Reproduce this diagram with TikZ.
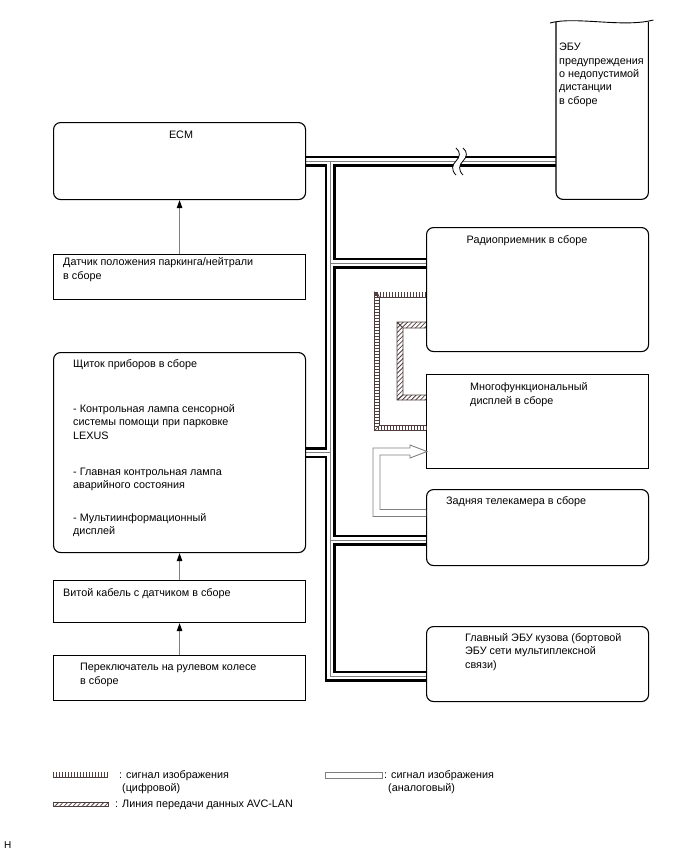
\documentclass[tikz,border=0pt]{standalone}
\usepackage{fontspec}
\setmainfont{Liberation Sans}
\usetikzlibrary{arrows.meta,patterns.meta}
\definecolor{sig}{RGB}{80,62,62}
\definecolor{bgray}{RGB}{128,128,128}
\pgfdeclarelayer{bg}
\pgfsetlayers{bg,main}
\newcommand\busnet[1]{%
  \draw[#1] (ecm.east) -- (ecwin);
  \draw[#1, line join=miter] (jtop) -- (jbot) -- (bdyin);
  \draw[#1] (clu.east) -- (jclu);
  \draw[#1] (jrad) -- (radin);
  \draw[#1] (jcam) -- (camin);}
\newcommand\digi[1]{%
  \draw[sig, line width=6pt, line join=miter] #1;
  \draw[white, line width=4.2pt, line join=miter] #1;
  \draw[sig, line width=4.2pt, dash pattern=on 1.1pt off 1.9pt] #1;}
\begin{document}
\begin{tikzpicture}[x=1pt,y=-1pt,
  txt/.style={inner sep=0pt, anchor=north west, align=left, font=\fontsize{10.8}{13.4}\selectfont},
  rbox/.style={draw, line width=1.1pt, rounded corners=7pt, inner sep=0pt, anchor=north west},
  sbox/.style={draw, line width=1.1pt, inner sep=0pt, anchor=north west},
  feed/.style={draw=bgray, line width=0.9pt, -{Triangle[length=8pt,width=5.5pt,color=black]}},
  hatch/.style={pattern={Lines[angle=45,distance=3.2pt,line width=0.8pt]}, pattern color=sig},
]
\useasboundingbox (0,0) rectangle (688,852);

% boxes
\node[rbox, minimum width=252pt, minimum height=77pt] (ecm) at (53,122) {};
\node[sbox, minimum width=252pt, minimum height=45pt] (pns) at (53,254) {};
\node[rbox, minimum width=252pt, minimum height=200pt] (clu) at (53,352) {};
\node[sbox, minimum width=252pt, minimum height=42pt] (cab) at (53,580) {};
\node[sbox, minimum width=252pt, minimum height=45pt] (swt) at (53,655) {};
\node[rbox, minimum width=222pt, minimum height=124pt] (rad) at (426,227) {};
\node[sbox, minimum width=222pt, minimum height=94pt] (mfd) at (426,374) {};
\node[rbox, minimum width=222pt, minimum height=76pt] (cam) at (426,489) {};
\node[rbox, minimum width=222pt, minimum height=75pt] (bdy) at (426,626) {};
\node[inner sep=0pt, minimum width=92pt, minimum height=177pt, anchor=north west] (ecw) at (556,22) {};
\draw[line width=1.1pt, rounded corners=7pt] (ecw.north west) -- (ecw.south west) -- (ecw.south east) -- (ecw.north east);
\draw[line width=0.9pt] ([xshift=-6pt,yshift=-1pt]ecw.north west) .. controls +(25,-7) and +(-30,8) .. ([xshift=5pt,yshift=2pt]ecw.north east);

% bus coordinates
\coordinate (trunkx) at (330,0);
\coordinate (jtop) at (trunkx |- ecm.east);
\coordinate (jbot) at (330,676);
\coordinate (bdyin) at (bdy.west |- jbot);
\coordinate (radin) at (426,263);
\coordinate (jrad) at (trunkx |- radin);
\coordinate (camin) at (426,540);
\coordinate (jcam) at (trunkx |- camin);
\coordinate (jclu) at (trunkx |- clu.east);
\coordinate (ecwin) at (ecw.west |- ecm.east);

\begin{pgfonlayer}{bg}
\busnet{line width=11pt, black}
\busnet{line width=6pt, white}
\busnet{line width=1pt, bgray}
\fill[white] (456,148) .. controls (461,152) and (460,157) .. (456,161) .. controls (452,165) and (451,170) .. (456,175)
  -- (463,175) .. controls (458,170) and (459,165) .. (463,161) .. controls (467,157) and (468,152) .. (463,148) -- cycle;
\end{pgfonlayer}
\draw[line width=0.8pt] (456,148) .. controls (461,152) and (460,157) .. (456,161) .. controls (452,165) and (451,170) .. (456,175);
\draw[line width=0.8pt] (463,148) .. controls (468,152) and (467,157) .. (463,161) .. controls (459,165) and (458,170) .. (463,175);

% digital video line radio -> display
\coordinate (dg1) at (rad.west |- 0,294.5);
\coordinate (dg2) at (377,294.5);
\coordinate (dg3) at (377,428);
\coordinate (dg4) at (mfd.west |- 0,428);
\digi{(dg1) -- (dg2) -- (dg3) -- (dg4)}
\draw[sig, line width=0.6pt] (374,291.5) -- (380,297.5) (374,431) -- (380,425);

% AVC-LAN line
\fill[hatch]
  (426,322) -- (397,322) -- (397,400) -- (426,400) -- (426,395) -- (403,395) -- (403,328) -- (426,328) -- cycle;
\draw[sig, line width=0.8pt] (426,322) -- (397,322) -- (397,400) -- (426,400)
  (426,395) -- (403,395) -- (403,328) -- (426,328) (397,322) -- (403,328) (397,400) -- (403,395);

% analog video line camera -> display
\draw[bgray, line width=0.9pt, fill=white] (426,516.5) -- (373,516.5) -- (373,448) -- (410,448) -- (410,445)
  -- (427,451.5) -- (410,458) -- (410,455) -- (380,455) -- (380,509.5) -- (426,509.5);

% feed arrows
\draw[feed] (pns.north) -- (ecm.south);
\draw[feed] (cab.north) -- (clu.south);
\draw[feed] (swt.north) -- (cab.south);

% texts
\node[txt, anchor=north] (tecm) at (181,131) {ECM};
\node[txt] (tpns) at (63,257.5) {Датчик положения паркинга/нейтрали\\в сборе};
\node[txt] (tcl1) at (73,359) {Щиток приборов в сборе};
\node[txt] (tcl2) at (73,404) {- Контрольная лампа сенсорной\\системы помощи при парковке\\LEXUS};
\node[txt] (tcl3) at (73,467.5) {- Главная контрольная лампа\\аварийного состояния};
\node[txt] (tcl4) at (73,513) {- Мультиинформационный\\дисплей};
\node[txt] (tcab) at (63,588) {Витой кабель с датчиком в сборе};
\node[txt] (tswt) at (80,663) {Переключатель на рулевом колесе\\в сборе};
\node[txt] (trad) at (466.5,235) {Радиоприемник в сборе};
\node[txt] (tmfd) at (470,382.5) {Многофункциональный\\дисплей в сборе};
\node[txt] (tcam) at (446,496) {Задняя телекамера в сборе};
\node[txt] (tbdy) at (465,633) {Главный ЭБУ кузова (бортовой\\ЭБУ сети мультиплексной\\связи)};
\node[txt] (tecw) at (559,43) {ЭБУ\\предупреждения\\о недопустимой\\дистанции\\в сборе};

% legend
\coordinate (lg1a) at (53,774.5);
\coordinate (lg1b) at (108,774.5);
\digi{(lg1a) -- (lg1b)}
\fill[hatch] (53,802) rectangle (108,806.5);
\draw[sig, line width=0.8pt] (53,802) rectangle (108,806.5);
\draw[bgray, line width=0.9pt] (325,772) rectangle (382,778);
\node[txt] (tl1) at (119,770) {: сигнал изображения\\\hspace*{3pt}(цифровой)};
\node[txt] (tl2) at (115,800) {: Линия передачи данных AVC-LAN};
\node[txt] (tl3) at (384,770) {: сигнал изображения\\\hspace*{4pt}(аналоговый)};
\node[txt, font=\fontsize{10}{11}\selectfont] (hh) at (4,841) {H};
\end{tikzpicture}
\end{document}
